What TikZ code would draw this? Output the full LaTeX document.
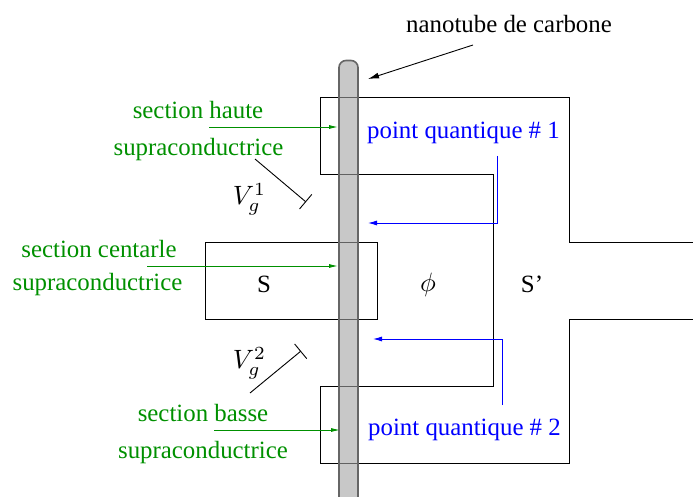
\documentclass[tikz,border=0pt]{standalone}
\usepackage{fontspec}
\setmainfont{Liberation Serif}
\definecolor{supraGreen}{HTML}{009000}
\definecolor{tubeGray}{HTML}{A3A3A3}
\usetikzlibrary{arrows.meta}

\begin{document}
\begin{tikzpicture}[
  x=1pt, y=-1pt,
  txt/.style={font=\fontsize{24.85}{28}\selectfont, inner sep=0pt},
  greentxt/.style={txt, text=supraGreen},
  bluetxt/.style={txt, text=blue},
  mathtxt/.style={inner sep=0pt, scale=2.65},
  contour/.style={line width=1pt, black},
  greenarrow/.style={-{Latex[length=9pt,width=4pt]}, line width=0.9pt, supraGreen},
  bluearrow/.style={-{Latex[length=9pt,width=5pt]}, line width=0.9pt, blue},
  blackarrow/.style={-{Latex[length=11pt,width=6pt]}, line width=0.9pt},
  gate/.style={-{Bar[width=19pt,line width=0.9pt]}, line width=0.9pt},
]
  \useasboundingbox (0,0) rectangle (693,497);

  % electrodes
  \draw[contour] (693,242) -- (569,242) -- (569,98) -- (320,98) -- (320,175) -- (493,175)
    -- (493,386) -- (320,386) -- (320,463) -- (569,463) -- (569,319) -- (693,319);
  \draw[contour] (205,242) rectangle (377,319);

  % nanotube
  \draw[line width=1.6pt, draw=black!60, fill=tubeGray, fill opacity=0.6, rounded corners=7pt]
    (339,498) -- (339,60.5) -- (358,60.5) -- (358,498);

  % labels
  \node[txt] (nano) at (509,24) {nanotube de carbone};
  \node[greentxt] (haut1) at (198,110) {section haute};
  \node[greentxt] (haut2) at (198.5,149.5) {supraconductrice};
  \node[greentxt] (cent1) at (99,249) {section centarle};
  \node[greentxt] (cent2) at (97.5,284.5) {supraconductrice};
  \node[greentxt] (bas1) at (203,413) {section basse};
  \node[greentxt] (bas2) at (203,452.5) {supraconductrice};
  \node[bluetxt] (pq1) at (463.5,132.5) {point quantique \# 1};
  \node[bluetxt] (pq2) at (464.5,429.5) {point quantique \# 2};
  \node[txt] (S) at (264,284) {S};
  \node[txt] (Sp) at (532,284) {S’};
  \node[mathtxt] (phi) at (428,285) {$\phi$};
  \node[mathtxt] (vg1) at (249.5,199) {$V_g^1$};
  \node[mathtxt] (vg2) at (249.5,363) {$V_g^2$};

  % arrow ends
  \coordinate (nanoA) at (473,45);
  \coordinate (nanoB) at (368,79);
  \coordinate (hautA) at (209,127);
  \coordinate (hautB) at (338,127);
  \coordinate (centA) at (147,266);
  \coordinate (centB) at (338,266);
  \coordinate (basA) at (214,430);
  \coordinate (basB) at (340,430);
  \coordinate (pq1A) at (497.5,156);
  \coordinate (pq1B) at (368,223);
  \coordinate (pq2A) at (502,405);
  \coordinate (pq2B) at (373,339);
  \coordinate (vg1A) at (255,159);
  \coordinate (vg1B) at (306,202);
  \coordinate (vg2A) at (250,393);
  \coordinate (vg2B) at (301,351);

  \draw[blackarrow] (nanoA) -- (nanoB);
  \draw[greenarrow] (hautA) -- (hautB);
  \draw[greenarrow] (centA) -- (centB);
  \draw[greenarrow] (basA) -- (basB);
  \draw[bluearrow] (pq1A) |- (pq1B);
  \draw[bluearrow] (pq2A) |- (pq2B);
  \draw[gate] (vg1A) -- (vg1B);
  \draw[gate] (vg2A) -- (vg2B);
\end{tikzpicture}
\end{document}
